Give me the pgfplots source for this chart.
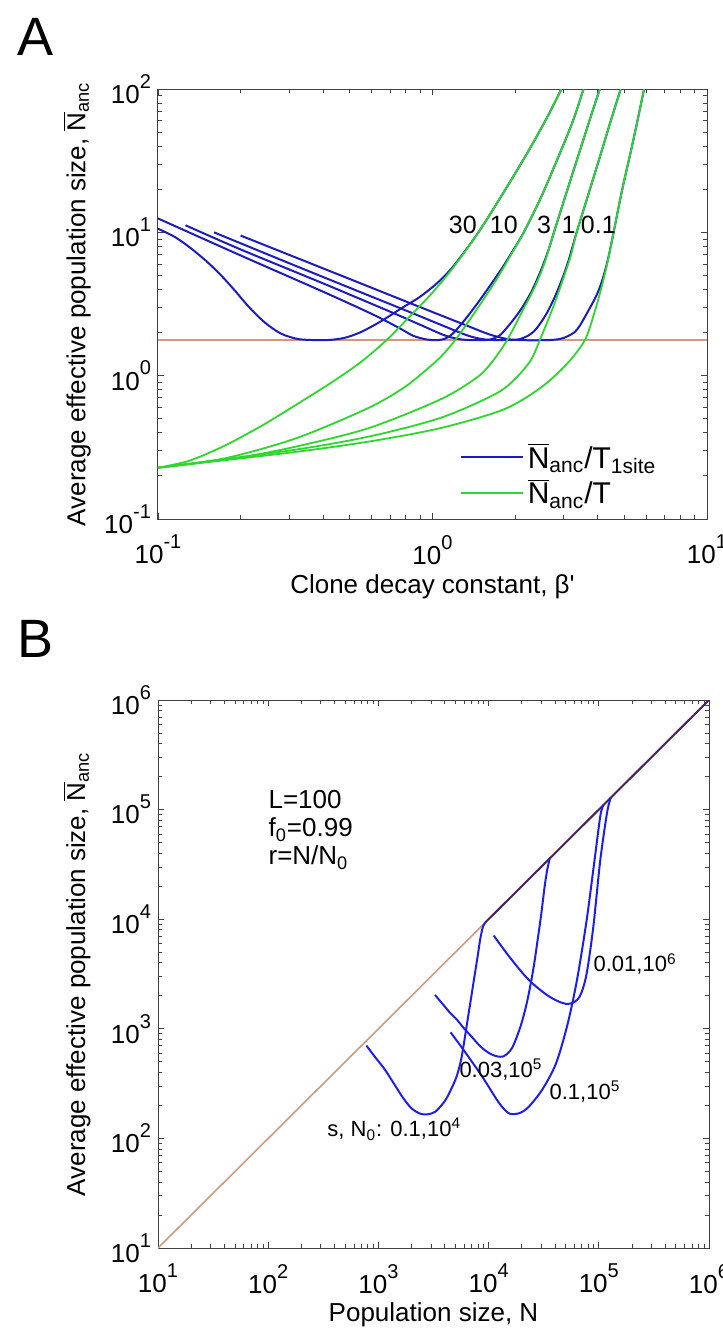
\documentclass[border=0pt]{standalone}
\usepackage{fontspec}
\setmainfont{Liberation Sans}
\usepackage{pgfplots}
\pgfplotsset{compat=1.18}
\definecolor{mblue}{RGB}{28,28,190}
\definecolor{mblueB}{RGB}{30,30,235}
\definecolor{mgreen}{RGB}{45,215,45}
\definecolor{morange}{RGB}{205,155,125}
\definecolor{mpurple}{RGB}{75,35,100}
\newcommand{\Nb}{\ensuremath{\overline{\hbox{N}}}}
\newcommand{\fs}[1]{\fontsize{#1}{#1}\selectfont}
\newcommand{\tsup}[1]{\raisebox{0.58em}{\fontsize{10}{10}\selectfont #1}}
\pgfplotsset{
  every axis/.append style={
    scale only axis,
    axis line style={line width=0.5pt, black!75},
    major tick length=3.2pt, minor tick length=1.8pt,
    tick align=inside,
    tick label style={font=\fs{13}},
    xticklabel style={yshift=-4.5pt},
    label style={font=\fs{13}},
  },
  every tick/.append style={black!75, line width=0.4pt},
  legend image code/.code={\draw[#1] (0pt,0pt) -- (31pt,0pt);},
}
\begin{document}
\begin{tikzpicture}
\useasboundingbox (0pt,0pt) rectangle (361.5pt,-664.5pt);
\node[anchor=north west, font=\fs{27}, inner sep=0pt] at (8.5pt,-9pt) {A};
\node[anchor=north west, font=\fs{27}, inner sep=0pt] at (8.5pt,-310pt) {B};
% ---------------- Panel A ----------------
\begin{loglogaxis}[
  at={(79pt,-44.5pt)}, anchor=north west,
  width=274.5pt, height=215pt,
  xmin=0.1, xmax=10, ymin=0.1, ymax=100,
  xtick={0.1,1,10},
  xticklabels={10\tsup{-1},10\tsup{0},10\tsup{1}},
  ytick={0.1,1,10,100},
  yticklabels={10\tsup{-1},10\tsup{0},10\tsup{1},10\tsup{2}},
  minor xtick={0.2,0.3,0.4,0.5,0.6,0.7,0.8,0.9,2,3,4,5,6,7,8,9},
  minor ytick={0.2,0.3,0.4,0.5,0.6,0.7,0.8,0.9,2,3,4,5,6,7,8,9,20,30,40,50,60,70,80,90},
  xlabel={Clone decay constant, β\textquotesingle},
  ylabel={Average effective population size, \Nb\textsubscript{anc}},
  xlabel style={at={(axis description cs:0.5,-0.158)}, anchor=center},
  ylabel style={at={(axis description cs:-0.1475,0.5)}, anchor=center},
  legend style={at={(axis description cs:0.538,0.102)}, anchor=west,
    draw=none, fill=none, font=\fs{15}, row sep=0pt},
  legend cell align=left,
]
% horizontal asymptote
\addplot[morange, line width=0.8pt, forget plot] coordinates {(0.1,1.77) (10,1.77)};
% blue curves
\addplot[mblue, line width=1pt, smooth] coordinates {
 (0.1,10.6) (0.115,9.3) (0.13,7.9) (0.15,6.3) (0.17,5.0) (0.19,3.95) (0.215,3.0)
 (0.245,2.35) (0.28,1.97) (0.32,1.81) (0.36,1.775) (0.42,1.775) (0.48,1.84)
 (0.55,2.02) (0.65,2.4) (0.77,2.95) (0.9,3.55) (1.05,4.5) (1.2,5.9) (1.47,10)
 (1.8,18.5) (2.2,35) (2.6,62) (2.95,100)};
\addlegendentry{\Nb\textsubscript{anc}/T\textsubscript{1site}}
\addplot[mblue, line width=1pt, smooth, forget plot] coordinates {
 (0.1,12.5) (0.2,6.9) (0.4,3.85) (0.6,2.7) (0.75,2.17) (0.85,1.9) (0.95,1.79)
 (1.03,1.77) (1.1,1.8) (1.18,1.95) (1.3,2.4) (1.45,3.15) (1.6,4.1) (1.8,5.7)
 (1.95,7.3) (2.15,10) (2.5,18) (2.9,35) (3.25,60) (3.55,100)};
\addplot[mblue, line width=1pt, smooth, forget plot] coordinates {
 (0.126,11.2) (0.2,7.6) (0.4,4.4) (0.7,2.8) (0.9,2.27) (1.1,1.92) (1.25,1.8)
 (1.4,1.77) (1.6,1.78) (1.75,1.9) (1.9,2.25) (2.1,2.9) (2.3,3.9) (2.5,5.6)
 (2.65,7.6) (2.77,10) (3.1,19.8) (3.45,37.6) (3.8,67) (4.07,100)};
\addplot[mblue, line width=1pt, smooth, forget plot] coordinates {
 (0.16,10.0) (0.3,6.1) (0.5,4.1) (0.8,2.85) (1.1,2.22) (1.35,1.9) (1.55,1.79)
 (1.8,1.77) (2.05,1.79) (2.25,1.92) (2.4,2.15) (2.6,2.7) (2.8,3.6) (3.0,5.0)
 (3.15,6.6) (3.35,10) (3.7,18.5) (4.05,32.5) (4.45,59) (4.85,100)};
\addplot[mblue, line width=1pt, smooth, forget plot] coordinates {
 (0.2,9.5) (0.4,5.6) (0.7,3.65) (1.0,2.78) (1.3,2.28) (1.6,1.95) (1.85,1.81)
 (2.1,1.77) (2.6,1.77) (2.9,1.8) (3.1,1.88) (3.3,2.02) (3.45,2.25) (3.7,2.85)
 (3.95,3.6) (4.15,4.6) (4.35,6.4) (4.55,9.6) (4.9,19.5) (5.3,38) (5.6,62) (5.9,100)};
% green curves
\addplot[mgreen, line width=0.9pt, smooth] coordinates {
 (0.1,0.228) (0.13,0.255) (0.175,0.325) (0.24,0.45) (0.32,0.63) (0.43,0.9)
 (0.55,1.25) (0.68,1.77) (0.82,2.55) (1.0,3.8) (1.2,5.8) (1.47,10) (1.8,18.5)
 (2.2,35) (2.6,62) (2.95,100)};
\addlegendentry{\Nb\textsubscript{anc}/T}
\addplot[mgreen, line width=0.9pt, smooth, forget plot] coordinates {
 (0.1,0.228) (0.175,0.265) (0.32,0.367) (0.586,0.597) (0.79,0.83) (0.95,1.1)
 (1.07,1.35) (1.21,1.77) (1.45,2.9) (1.7,4.6) (1.95,7.2) (2.15,10) (2.5,18)
 (2.9,35) (3.25,60) (3.55,100)};
\addplot[mgreen, line width=0.9pt, smooth, forget plot] coordinates {
 (0.1,0.228) (0.2,0.27) (0.32,0.321) (0.586,0.431) (1.07,0.684) (1.45,0.97)
 (1.65,1.25) (1.87,1.77) (2.1,2.7) (2.35,4.1) (2.55,6.0) (2.77,10) (3.1,19.8)
 (3.45,37.6) (3.8,67) (4.07,100)};
\addplot[mgreen, line width=0.9pt, smooth, forget plot] coordinates {
 (0.1,0.228) (0.3,0.3) (0.586,0.376) (1.07,0.508) (1.69,0.743) (2.0,0.95)
 (2.28,1.28) (2.46,1.77) (2.75,3.0) (3.0,4.8) (3.2,7) (3.35,10) (3.7,18.5)
 (4.05,32.5) (4.45,59) (4.85,100)};
\addplot[mgreen, line width=0.9pt, smooth, forget plot] coordinates {
 (0.1,0.228) (0.3,0.29) (0.586,0.347) (1.07,0.431) (1.82,0.582) (2.49,0.83)
 (3.09,1.21) (3.59,1.77) (3.9,2.8) (4.15,4.3) (4.35,6.3) (4.55,9.6) (4.9,19.5)
 (5.3,38) (5.6,62) (5.9,100)};
% curve labels
\node[font=\fs{12.5}] at (axis cs:1.29,11.2) {30};
\node[font=\fs{12.5}] at (axis cs:1.82,11.2) {10};
\node[font=\fs{12.5}] at (axis cs:2.55,11.2) {3};
\node[font=\fs{12.5}] at (axis cs:3.13,11.2) {1};
\node[font=\fs{12.5}] at (axis cs:4.02,11.2) {0.1};
\end{loglogaxis}
% ---------------- Panel B ----------------
\begin{loglogaxis}[
  at={(79pt,-350pt)}, anchor=north west,
  width=275.5pt, height=274pt,
  xmin=10, xmax=1000000, ymin=10, ymax=1000000,
  xtick={10,100,1000,10000,100000,1000000},
  xticklabels={10\tsup{1},10\tsup{2},10\tsup{3},10\tsup{4},10\tsup{5},10\tsup{6}},
  ytick={10,100,1000,10000,100000,1000000},
  yticklabels={10\tsup{1},10\tsup{2},10\tsup{3},10\tsup{4},10\tsup{5},10\tsup{6}},
  minor xtick={20,30,40,50,60,70,80,90,200,300,400,500,600,700,800,900,2000,3000,4000,5000,6000,7000,8000,9000,20000,30000,40000,50000,60000,70000,80000,90000,200000,300000,400000,500000,600000,700000,800000,900000},
  minor ytick={20,30,40,50,60,70,80,90,200,300,400,500,600,700,800,900,2000,3000,4000,5000,6000,7000,8000,9000,20000,30000,40000,50000,60000,70000,80000,90000,200000,300000,400000,500000,600000,700000,800000,900000},
  xlabel={Population size, N},
  ylabel={Average effective population size, \Nb\textsubscript{anc}},
  xlabel style={at={(axis description cs:0.5,-0.122)}, anchor=center},
  ylabel style={at={(axis description cs:-0.147,0.5)}, anchor=center},
]
\addplot[morange, line width=0.8pt] coordinates {(10,10) (1000000,1000000)};
\addplot[mpurple, line width=1pt] coordinates {(9400,9400) (1000000,1000000)};
\addplot[mblueB, line width=1pt, smooth] coordinates {
 (778,703) (950,540) (1146,424) (1400,310) (1687,232) (2000,188) (2400,168)
 (2800,166) (3300,176) (4027,221) (4600,285) (5129,368) (5600,510) (5929,703)
 (6400,1150) (6855,1774) (7400,2900) (7925,4477) (8400,6600) (8900,8600) (9400,9400)};
\addplot[mblueB, line width=1pt, smooth] coordinates {
 (3260,2037) (3800,1700) (4440,1410) (5200,1200) (5930,1019) (7000,850)
 (7925,736) (9200,640) (10600,585) (12000,560) (13490,558) (15000,600)
 (16370,672) (18000,840) (19860,1117) (22000,1650) (24100,2570) (26000,4000)
 (27860,6477) (30000,11000) (32200,19630) (34000,28000) (35800,35500)};
\addplot[mblueB, line width=1pt, smooth] coordinates {
 (4520,929) (5930,641) (8730,368) (11660,232) (13500,190) (15600,168)
 (19000,170) (22960,193) (30700,279) (41000,486) (52240,1117) (63500,2818)
 (77100,9380) (89200,28400) (103000,86300) (110000,110000)};
\addplot[mblueB, line width=1pt, smooth] coordinates {
 (11120,7100) (15600,4480) (22960,2818) (33800,2037) (45200,1741) (54800,1694)
 (66600,1946) (77100,3090) (89200,8550) (103000,34200) (119000,94600) (128500,128500)};
\node[anchor=west, align=left, inner sep=0pt, font=\fontsize{13}{14}\selectfont]
  at (axis cs:100,65300) {L=100\\f\textsubscript{0}=0.99\\r=N/N\textsubscript{0}};
\node[anchor=west, inner sep=0pt, font=\fs{11}] at (axis cs:89000,3900) {0.01,10\textsuperscript{6}};
\node[anchor=west, inner sep=0pt, font=\fs{11}] at (axis cs:5400,424) {0.03,10\textsuperscript{5}};
\node[anchor=west, inner sep=0pt, font=\fs{11}] at (axis cs:35500,267) {0.1,10\textsuperscript{5}};
\node[anchor=west, inner sep=0pt, font=\fs{11}] at (axis cs:342,121) {s, N\textsubscript{0}: 0.1,10\textsuperscript{4}};
\end{loglogaxis}
\end{tikzpicture}
\end{document}
